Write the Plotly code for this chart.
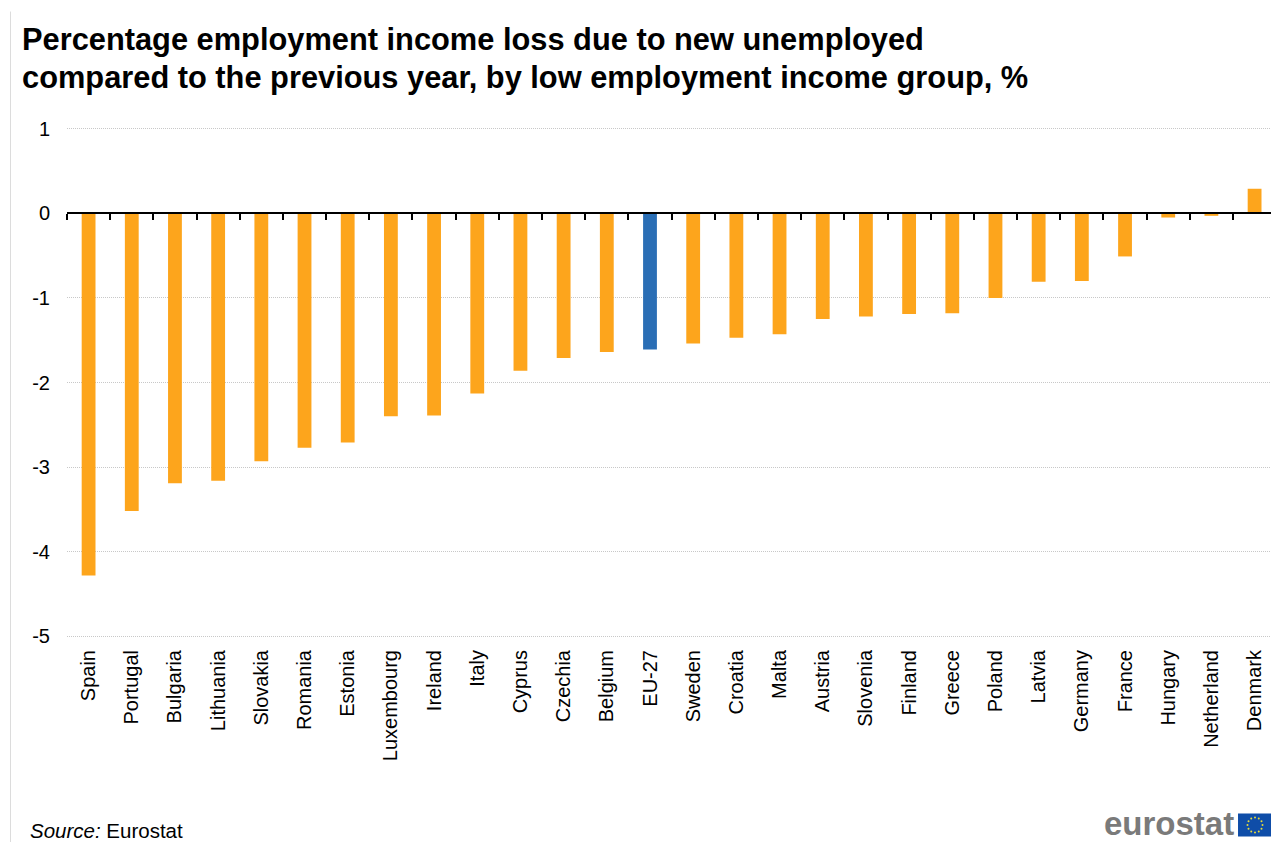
import math
import plotly.graph_objects as go

countries = ["Spain", "Portugal", "Bulgaria", "Lithuania", "Slovakia", "Romania", "Estonia",
             "Luxembourg", "Ireland", "Italy", "Cyprus", "Czechia", "Belgium", "EU-27", "Sweden",
             "Croatia", "Malta", "Austria", "Slovenia", "Finland", "Greece", "Poland", "Latvia",
             "Germany", "France", "Hungary", "Netherland", "Denmark"]
income_loss = [-4.28, -3.52, -3.19, -3.16, -2.93, -2.77, -2.71, -2.40, -2.39, -2.13, -1.86, -1.71,
               -1.64, -1.61, -1.54, -1.47, -1.43, -1.25, -1.22, -1.19, -1.18, -1.00, -0.81, -0.80,
               -0.51, -0.05, -0.03, 0.29]
y_ticks = [1, 0, -1, -2, -3, -4, -5]
title_lines = ["Percentage employment income loss due to new unemployed",
               "compared to the previous year, by low employment income group, %"]

ORANGE = "#FDA51C"
BLUE = "#2A6EB5"
FONT = "Liberation Sans"
W, H = 1271, 842
# A small pad on the value axis keeps the outer gridlines (1 and -5) visible
Y_PAD = 0.02
PX_PER_UNIT = 84.5
LEFT = 66.5
TOP = 129 - Y_PAD * PX_PER_UNIT
BOTTOM = 636 + Y_PAD * PX_PER_UNIT
X_RANGE = [-0.5, 27.38]
ZERO_POS = (BOTTOM - 213.5) / (BOTTOM - TOP)

bar_colors = [BLUE if c == "EU-27" else ORANGE for c in countries]

fig = go.Figure()
fig.add_trace(go.Bar(x=countries, y=income_loss, marker=dict(color=bar_colors, line_width=0),
                     showlegend=False, hoverinfo="x+y"))
# Second x axis sits on the zero level and carries the baseline with its tick marks
fig.add_trace(go.Scatter(x=countries, y=income_loss, xaxis="x2", mode="none",
                         showlegend=False, hoverinfo="skip"))


def px_x(v):
    return (v - LEFT) / (W - LEFT)


def px_y(v):
    return (BOTTOM - v) / (BOTTOM - TOP)


# Grey rule down the left edge of the page
shapes = [dict(type="line", xref="paper", yref="paper", layer="below",
               x0=px_x(10), x1=px_x(10), y0=px_y(H), y1=px_y(12),
               line=dict(color="#DCDCDC", width=1))]

# EU flag beside the wordmark: blue field with a ring of twelve stars
shapes.append(dict(type="rect", xref="paper", yref="paper", layer="above",
                   x0=px_x(1238), x1=px_x(1271), y0=px_y(836), y1=px_y(813),
                   fillcolor="#0F4DA8", line_width=0))
for i in range(12):
    a = math.radians(30 * i)
    cx, cy = 1255 + 7.5 * math.cos(a), 824.5 + 7.5 * math.sin(a)
    shapes.append(dict(type="circle", xref="paper", yref="paper", layer="above",
                       x0=px_x(cx - 1), x1=px_x(cx + 1), y0=px_y(cy + 1), y1=px_y(cy - 1),
                       fillcolor="#E8DC3A", line_width=0))

annotations = [
    dict(text=f"<b>{line}</b>", xref="paper", yref="paper", x=px_x(19), y=px_y(ypos),
         xanchor="left", yanchor="middle", align="left", showarrow=False,
         font=dict(family=FONT, size=30.8, color="#000000"))
    for line, ypos in zip(title_lines, [40, 78])
] + [
    dict(text="<i>Source:</i> Eurostat", xref="paper", yref="paper", x=px_x(27), y=px_y(829.5),
         xanchor="left", yanchor="middle", showarrow=False,
         font=dict(family=FONT, size=20.5, color="#000000")),
    dict(text="<b>eurostat</b>", xref="paper", yref="paper", x=px_x(1234.5), y=px_y(822.5),
         xanchor="right", yanchor="middle", showarrow=False, borderpad=0,
         font=dict(family=FONT, size=33, color="#7A7A7A")),
]

fig.update_layout(
    width=W, height=H,
    margin=dict(l=LEFT, r=0, t=TOP, b=H - BOTTOM, autoexpand=False),
    plot_bgcolor="white", paper_bgcolor="white",
    bargap=0.68, showlegend=False,
    font=dict(family=FONT, color="#000000"),
    shapes=shapes, annotations=annotations,
    xaxis=dict(type="category", categoryorder="array", categoryarray=countries, range=X_RANGE,
               autorange=False, tickangle=-90, tickfont=dict(size=20, family=FONT),
               ticks="", showline=False, showgrid=False, zeroline=False, ticklabelstandoff=7),
    xaxis2=dict(type="category", categoryorder="array", categoryarray=countries, range=X_RANGE,
                autorange=False, overlaying="x", anchor="free", position=ZERO_POS, side="bottom",
                showticklabels=False, ticks="outside", ticklen=6, tickwidth=1.5, tickcolor="#000000",
                tickson="boundaries", showline=True, linecolor="#000000", linewidth=1.5,
                showgrid=False, zeroline=False),
    yaxis=dict(range=[-5 - Y_PAD, 1 + Y_PAD], autorange=False, tickvals=y_ticks,
               ticktext=[str(t) for t in y_ticks], tickfont=dict(size=20, family=FONT),
               showgrid=True, gridcolor="#C8C8C8", griddash="1px,1px", gridwidth=1,
               zeroline=False, showline=False, ticks="", ticklabelstandoff=16),
)

fig.write_html("out.html")
